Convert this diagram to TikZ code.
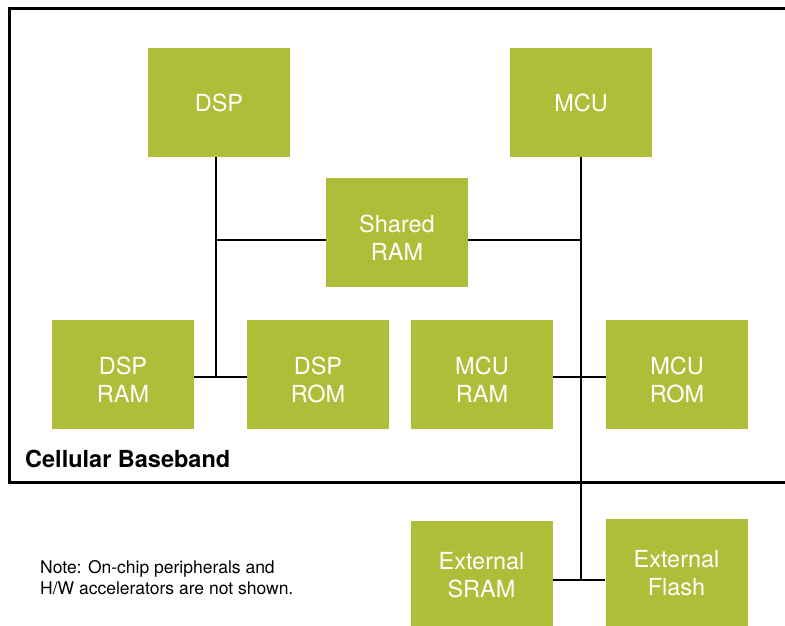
\documentclass[tikz,border=0pt]{standalone}
\usepackage{fontspec}
\setmainfont{TeX Gyre Heros}
\usepackage{tikz}
\definecolor{chipgreen}{RGB}{175,190,56}
\newcommand{\lowstrut}{\rule{0pt}{29pt}}

\begin{document}
\begin{tikzpicture}[x=1pt, y=-1pt,
        block/.style={rectangle, fill=chipgreen, text=white, align=center,
                minimum width=142pt, minimum height=109pt, inner sep=0pt,
                font=\fontsize{23.5}{28}\selectfont},
        bus/.style={line width=2.3pt}]
        	\useasboundingbox (0,0) rectangle (785,626);
        	\draw [line width=3pt] (787,9) -- (9,9) -- (9,482) -- (787,482);
        	\node [block] (DSP) at (219,102.5) {DSP};
        	\node [block] (MCU) at (581,102.5) {MCU};
        	\node [block] (Shared) at (397,232) {\lowstrut Shared\\RAM};
        	\node [block] (DSPRAM) at (123,374) {\lowstrut DSP\\RAM};
        	\node [block] (DSPROM) at (318,374) {\lowstrut DSP\\ROM};
        	\node [block] (MCURAM) at (482,374) {\lowstrut MCU\\RAM};
        	\node [block] (MCUROM) at (677,374) {\lowstrut MCU\\ROM};
        	\node [block] (ExtSRAM) at (481.5,575.5) {External\\SRAM};
        	\node [block] (ExtFlash) at (676.5,573.5) {External\\Flash};
        	\node [anchor=base west, inner sep=0pt, font=\bfseries\fontsize{23.5}{27}\selectfont] (title) at (25,467) {Cellular Baseband};
        	\node [anchor=west, align=left, inner sep=0pt, font=\fontsize{17.5}{21}\selectfont] (note) at (40,578) {Note: On-chip peripherals and\\H/W accelerators are not shown.};
        	\coordinate (dspjoin) at (216,240);
        	\coordinate (dspmem) at (216,377);
        	\coordinate (mcujoin) at (581,240);
        	\coordinate (mcumem) at (581,377);
        	\coordinate (extmem) at (581,580);
        	\draw [bus] (DSP.south -| dspmem) -- (dspmem);
        	\draw [bus] (MCU.south -| extmem) -- (extmem);
        	\draw [bus] (Shared.west |- dspjoin) -- (dspjoin);
        	\draw [bus] (Shared.east |- mcujoin) -- (mcujoin);
        	\draw [bus] (DSPRAM.east |- dspmem) -- (DSPROM.west |- dspmem);
        	\draw [bus] (MCURAM.east |- mcumem) -- (MCUROM.west |- mcumem);
        	\draw [bus] (ExtSRAM.east |- extmem) -- (ExtFlash.west |- extmem);
        \end{tikzpicture}
\end{document}
